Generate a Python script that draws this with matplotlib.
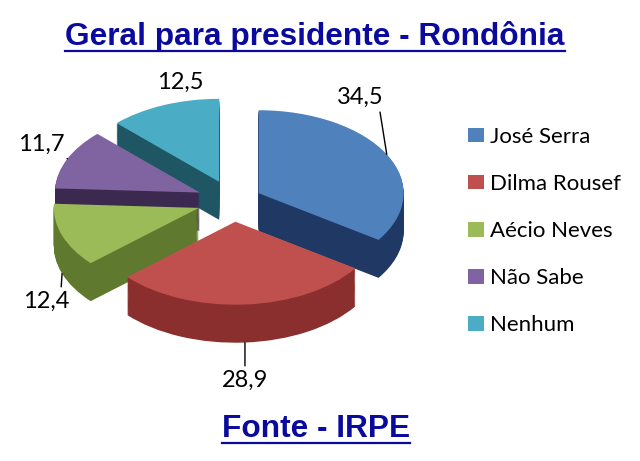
import matplotlib.pyplot as plt
from matplotlib.lines import Line2D
import numpy as np

# --Dados
candidatos = ['José Serra', 'Dilma Rousef', 'Aécio Neves', 'Não Sabe', 'Nenhum']
votos = [34.5, 28.9, 12.4, 11.7, 12.5]
rotulos = ['34,5', '28,9', '12,4', '11,7', '12,5']
cores = ['#4f81bd', '#c0504d', '#9bbb59', '#8064a2', '#4bacc6']
cores_lado = ['#1f3864', '#8a2f2d', '#5f7a2e', '#3b2950', '#1f5663']
explode = [0.2, 0.25, 0.25, 0.25, 0.25]

W, H = 640, 461
fig = plt.figure(figsize=(W / 100, H / 100), dpi=100)

# --Caixa do grafico em pixels
cx, cy, rx, ry, prof = 233, 201, 145, 83, 38
x0, x1, y0, y1 = 20, 440, 60, 400
ax = fig.add_axes([x0 / W, (H - y1) / H, (x1 - x0) / W, (y1 - y0) / H])
d = prof / ry
n = 40
# --Paredes laterais: pizzas empilhadas, mais escuras
for k in range(n, 0, -1):
    ax.pie(votos, colors=cores_lado, explode=explode, startangle=90,
           counterclock=False, center=(0, -d * k / n),
           wedgeprops=dict(linewidth=0))
topo, _ = ax.pie(votos, colors=cores, explode=explode, startangle=90,
                 counterclock=False, wedgeprops=dict(linewidth=0))
ax.set_aspect('auto')
ax.set_xlim((x0 - cx) / rx, (x1 - cx) / rx)
ax.set_ylim((cy - y1) / ry, (cy - y0) / ry)
ax.axis('off')

# --Rotulos de valores
offsets = [(-27, 57), (0, -38), (-16, -28), (-26, 15), (17, 23)]
relpos = [(0.92, 0), (0.5, 1), (0.82, 1), (1, 0.1), None]
baixo = [False, True, True, False, False]
for w, txt, e, off, rp, b in zip(topo, rotulos, explode, offsets, relpos, baixo):
    a = np.deg2rad((w.theta1 + w.theta2) / 2)
    tip = ((1 + e) * np.cos(a), (1 + e) * np.sin(a) - (d if b else 0))
    ax.annotate(txt, xy=tip, xytext=off, textcoords='offset pixels',
                ha='center', va='center', fontsize=17, family='Lato',
                arrowprops=dict(arrowstyle='-', lw=1, color='black',
                                relpos=rp, shrinkA=1, shrinkB=0)
                if rp else None)

# --Legenda
fig.legend(topo, candidatos, loc='center left',
           bbox_to_anchor=(448 / W, 1 - 231 / H), frameon=False,
           prop=dict(family='Lato', size=16), handlelength=0.7,
           handleheight=0.65, handletextpad=0.3, labelspacing=1.22)

# --Titulo e fonte, sublinhados
azul = '#0a0a9e'
t1 = fig.text(315 / W, 1 - 45 / H, 'Geral para presidente - Rondônia',
              ha='center', va='baseline', fontsize=22.8, fontweight='bold',
              family='Liberation Sans', color=azul)
t2 = fig.text(316 / W, 1 - 437 / H, 'Fonte - IRPE', ha='center',
              va='baseline', fontsize=22.8, fontweight='bold',
              family='Liberation Sans', color=azul)
fig.canvas.draw()
r = fig.canvas.get_renderer()
for t in (t1, t2):
    bb = t.get_window_extent(r)
    fig.add_artist(Line2D([bb.x0 / W, bb.x1 / W], [(bb.y0 + 1) / H] * 2,
                          transform=fig.transFigure, color=azul, lw=1.6))

fig.savefig('out.png', dpi=100)
